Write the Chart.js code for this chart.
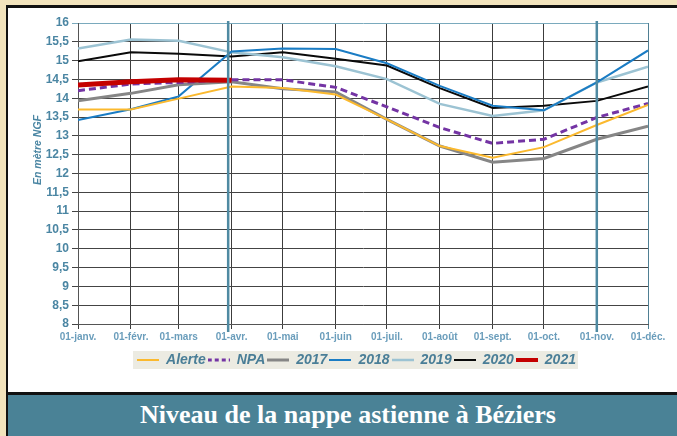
<!DOCTYPE html>
<html lang="fr">
<head>
    <meta charset="UTF-8">
    <title>Niveau de la nappe astienne à Béziers</title>
    <style>
        html, body { margin: 0; padding: 0; }
        body {
            width: 677px; height: 436px; overflow: hidden; position: relative;
            background: #f2e3bc;
        }
        /* cadre blanc du graphique */
        #cadre {
            position: absolute; left: 6px; top: 5px; width: 700px; height: 390px;
            box-sizing: border-box; background: #fff;
            border-top: 3px solid #111; border-left: 2px solid #111; border-bottom: 3px solid #111;
        }
        #zone {
            position: absolute; left: 9px; top: 8px; width: 668px; height: 384px;
        }
        /* bandeau du titre */
        #titre {
            position: absolute; left: 6px; top: 395px; width: 700px; height: 41px;
            box-sizing: border-box; border-left: 2px solid #111;
            background: #4a8296; color: #fff;
            font-family: "Liberation Serif", "Times New Roman", serif; font-weight: bold; font-size: 26px;
            line-height: 40px; text-align: left; padding-left: 132px;
        }
    </style>
    <script src="https://cdn.jsdelivr.net/npm/chart.js"></script>
</head>
<body>
    <div id="cadre"></div>
    <div id="zone"><canvas id="graphiqueNappe"></canvas></div>
    <div id="titre">Niveau de la nappe astienne à Béziers</div>

    <script>
        // jours depuis le 1er janvier pour chaque début de mois
        const joursMois = [0, 31, 59, 90, 120, 151, 181, 212, 243, 273, 304, 334];
        const etiquettesMois = ['01-janv.', '01-févr.', '01-mars', '01-avr.', '01-mai', '01-juin',
            '01-juil.', '01-août', '01-sept.', '01-oct.', '01-nov.', '01-déc.'];

        // niveaux en mètre NGF
        const alerte = [13.70, 13.70, 13.99, 14.31, 14.27, 14.10, 13.44, 12.73, 12.42, 12.70, 13.29, 13.82];
        const npa    = [14.20, 14.38, 14.42, 14.49, 14.49, 14.29, 13.77, 13.22, 12.80, 12.91, 13.49, 13.86];
        const an2017 = [13.93, 14.13, 14.36, 14.44, 14.25, 14.17, 13.44, 12.73, 12.30, 12.40, 12.91, 13.26];
        const an2018 = [13.42, 13.71, 14.05, 15.24, 15.32, 15.31, 14.93, 14.33, 13.80, 13.68, 14.42, 15.27];
        const an2019 = [15.32, 15.56, 15.53, 15.22, 15.09, 14.85, 14.51, 13.85, 13.53, 13.68, 14.42, 14.84];
        const an2020 = [14.98, 15.22, 15.18, 15.11, 15.22, 15.05, 14.87, 14.27, 13.74, 13.80, 13.93, 14.31];
        const an2021 = [14.35, 14.44, 14.49, 14.48];

        // traits verticaux (repères) en jours
        const reperes = [88, 304];

        function points(valeurs) {
            return valeurs.map((v, i) => ({ x: joursMois[i], y: v }));
        }

        function serie(label, valeurs, couleur, epaisseur, extra) {
            return Object.assign({
                label: label,
                data: points(valeurs),
                borderColor: couleur,
                backgroundColor: couleur,
                borderWidth: epaisseur,
                pointRadius: 0,
                tension: 0,
                fill: false
            }, extra || {});
        }

        // petit échantillon de trait pour la légende (gère les pointillés)
        function echantillon(couleur, epaisseur, tirets) {
            const c = document.createElement('canvas');
            c.width = 22; c.height = 8;
            const g = c.getContext('2d');
            g.strokeStyle = couleur;
            g.lineWidth = Math.min(epaisseur, 4);
            g.setLineDash(tirets || []);
            g.beginPath();
            g.moveTo(0, 4);
            g.lineTo(22, 4);
            g.stroke();
            return c;
        }

        const couleurTexte = '#4b86a3';
        const decalageLegende = 28;

        // fond gris-beige derrière la légende, légende décalée vers la droite
        const fondLegende = {
            id: 'fondLegende',
            afterLayout(chart) {
                const l = chart.legend;
                if (!l) return;
                l.left += decalageLegende;
                l.right += decalageLegende;
            },
            beforeDraw(chart) {
                const l = chart.legend;
                if (!l || !l.lineWidths) return;
                const larg = l.lineWidths[0];
                const cx = (l.left + l.right) / 2;
                const boites = l.legendHitBoxes;
                const cy = boites[0].top + boites[0].height / 2;
                const ctx = chart.ctx;
                ctx.save();
                ctx.fillStyle = '#ecebe2';
                ctx.fillRect(cx - larg / 2 - 3, cy - 9, larg + 4, 18);
                ctx.restore();
            }
        };

        // repères verticaux + titre de l'axe vertical
        const decor = {
            id: 'decor',
            afterDatasetsDraw(chart) {
                const ctx = chart.ctx;
                const x = chart.scales.x;
                const a = chart.chartArea;
                ctx.save();
                ctx.strokeStyle = '#4f8aa2';
                ctx.lineWidth = 2.5;
                reperes.forEach(j => {
                    const px = x.getPixelForValue(j);
                    ctx.beginPath();
                    ctx.moveTo(px, a.top - 2);
                    ctx.lineTo(px, a.bottom + 8);
                    ctx.stroke();
                });
                ctx.restore();
            },
            afterDraw(chart) {
                const ctx = chart.ctx;
                ctx.save();
                ctx.translate(29, 142);
                ctx.rotate(-Math.PI / 2);
                ctx.fillStyle = couleurTexte;
                ctx.font = 'italic bold 10.5px "Liberation Sans", Arial, sans-serif';
                ctx.textAlign = 'center';
                ctx.textBaseline = 'middle';
                ctx.fillText('En mètre NGF', 0, 0);
                ctx.restore();
            }
        };

        const ctx = document.getElementById('graphiqueNappe').getContext('2d');
        new Chart(ctx, {
            type: 'line',
            data: {
                datasets: [
                    serie('Alerte', alerte, '#fbb92e', 2),
                    serie('NPA', npa, '#7434a4', 3, { borderDash: [7, 4] }),
                    serie('2017', an2017, '#868686', 3),
                    serie('2018', an2018, '#1a7cc4', 2),
                    serie('2019', an2019, '#9cc3d3', 2.5),
                    serie('2020', an2020, '#0a0a0a', 2),
                    serie('2021', an2021, '#c40000', 5, { order: -1 })
                ]
            },
            options: {
                responsive: true,
                maintainAspectRatio: false,
                animation: false,
                layout: { padding: { top: 15, right: 29, left: 0, bottom: 15 } },
                plugins: {
                    tooltip: { enabled: false },
                    legend: {
                        position: 'bottom',
                        labels: {
                            usePointStyle: true,
                            pointStyleWidth: 22,
                            boxHeight: 14,
                            padding: 2,
                            color: '#4a7e97',
                            font: { family: '"Liberation Sans", Arial, sans-serif', size: 14, weight: 'bold', style: 'italic' },
                            sort: (a, b) => a.datasetIndex - b.datasetIndex,
                            generateLabels: chart => {
                                const items = Chart.defaults.plugins.legend.labels.generateLabels(chart);
                                items.forEach(it => {
                                    const ds = chart.data.datasets[it.datasetIndex];
                                    it.pointStyle = echantillon(ds.borderColor, ds.borderWidth, ds.borderDash ? [4, 3] : null);
                                });
                                return items;
                            }
                        }
                    }
                },
                scales: {
                    x: {
                        type: 'linear',
                        min: 0,
                        max: 334,
                        afterBuildTicks: s => { s.ticks = joursMois.map(v => ({ value: v })); },
                        afterFit: s => { s.height = 27; },
                        ticks: {
                            autoSkip: false,
                            maxRotation: 0,
                            padding: 2,
                            color: '#6a9dbb',
                            font: { family: '"Liberation Sans Narrow", "Liberation Sans", Arial, sans-serif', size: 10, weight: 'bold' },
                            callback: v => etiquettesMois[joursMois.indexOf(v)]
                        },
                        grid: {
                            color: c => (c.tick && c.tick.value === 334) ? '#4f7f93' : '#3c3c3c',
                            lineWidth: 1,
                            tickLength: 5
                        },
                        border: { color: '#555', width: 1 }
                    },
                    y: {
                        min: 8,
                        max: 16,
                        afterFit: s => { s.width = 69; },
                        ticks: {
                            stepSize: 0.5,
                            padding: 3,
                            color: couleurTexte,
                            font: { family: '"Liberation Sans", Arial, sans-serif', size: 12, weight: 'bold' },
                            callback: v => String(v).replace('.', ',')
                        },
                        grid: {
                            color: c => (c.tick && c.tick.value === 16) ? '#7aaabd' : '#444',
                            lineWidth: 1,
                            tickLength: 6
                        },
                        border: { color: '#555', width: 1 }
                    }
                }
            },
            plugins: [fondLegende, decor]
        });
    </script>
</body>
</html>
